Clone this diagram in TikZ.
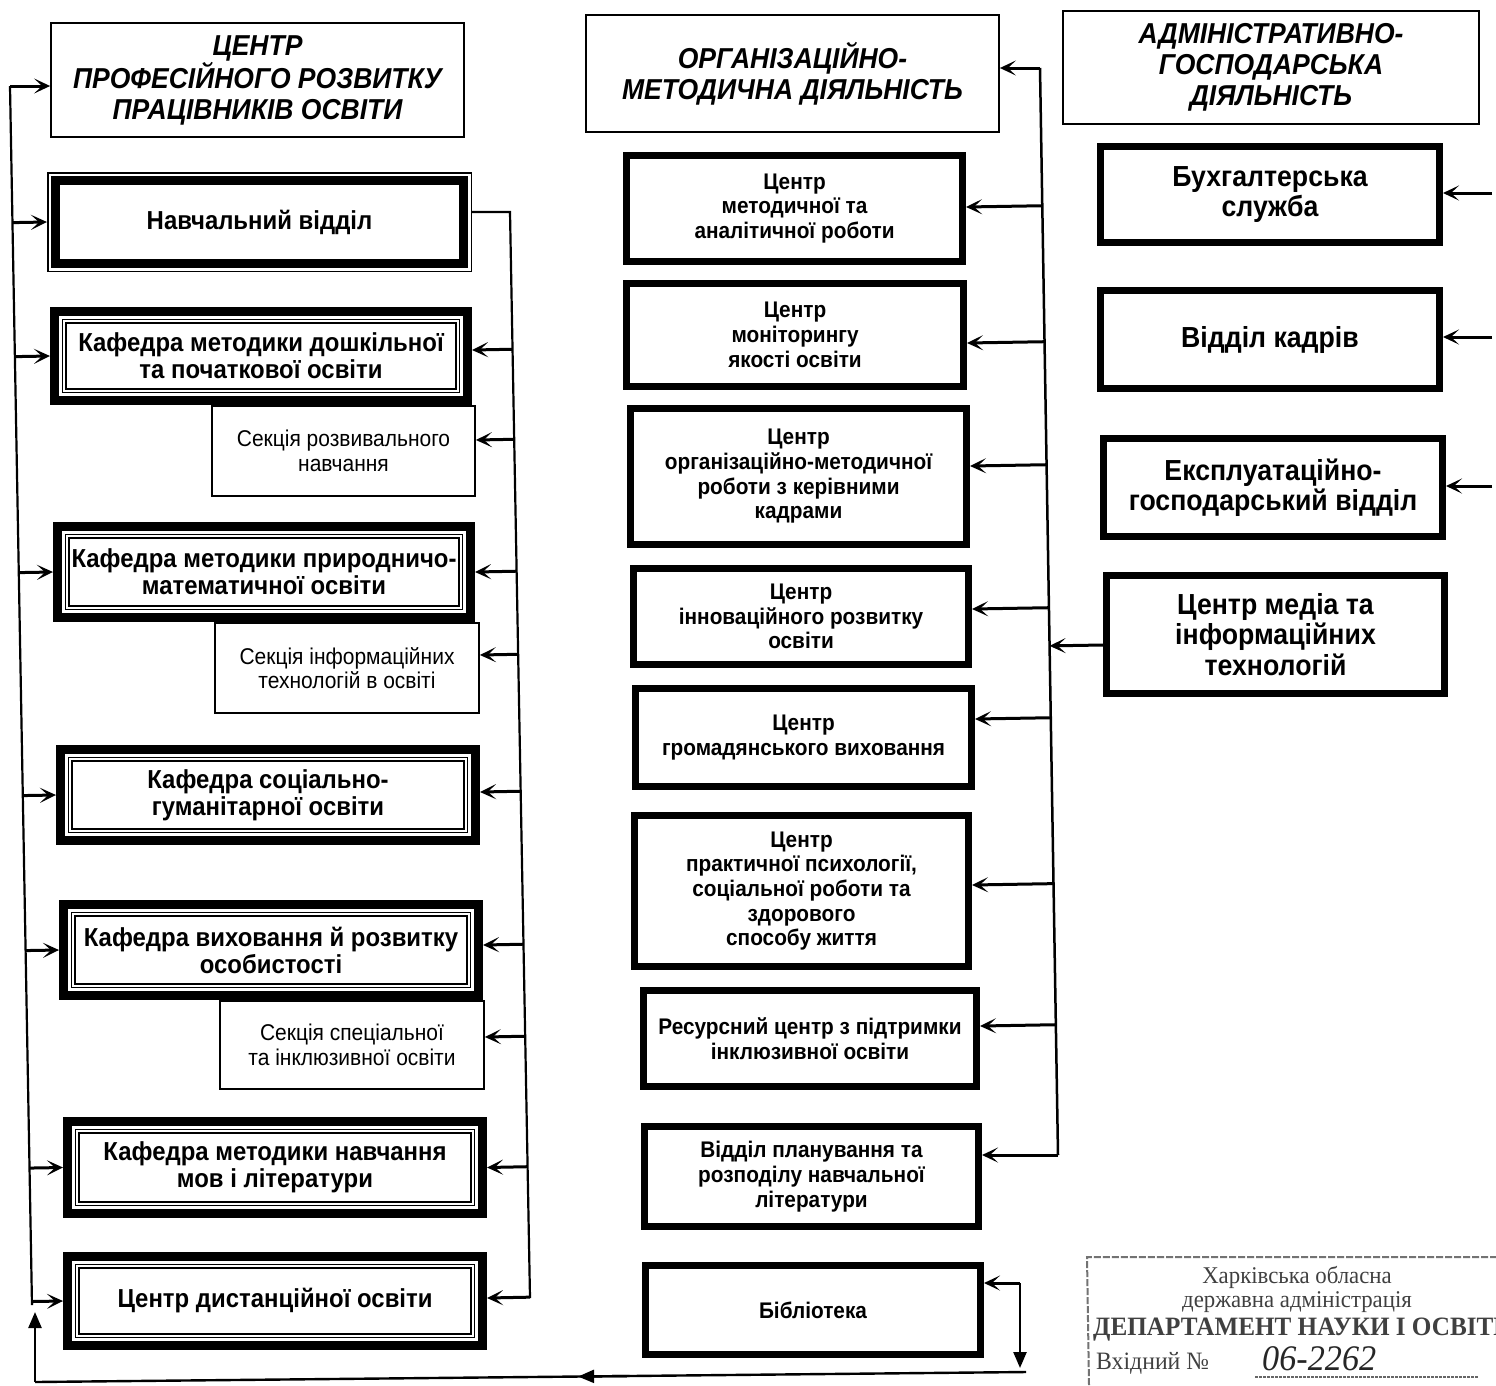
\documentclass[tikz,border=0pt]{standalone}
\usepackage{fontspec}
\setmainfont{Liberation Sans}[FakeStretch=0.92]
\newfontfamily\stampfont{Liberation Serif}[FakeStretch=0.95]
\usetikzlibrary{arrows.meta,calc}
\tikzset{
  hdr/.style={draw, line width=1.8pt, align=center, inner sep=0pt,
    font=\bfseries\itshape\fontsize{28.8}{31}\selectfont},
  mbox/.style={draw, line width=7pt, align=center, inner sep=0pt,
    font=\bfseries\fontsize{22.6}{24.7}\selectfont},
  rbox/.style={draw, line width=7pt, align=center, inner sep=0pt,
    font=\bfseries\fontsize{29}{30.5}\selectfont},
  sbox/.style={draw, line width=1.8pt, align=center, inner sep=0pt,
    font=\fontsize{22.8}{24.5}\selectfont},
  kbox/.style={draw, line width=9pt, align=center, inner sep=0pt,
    font=\bfseries\fontsize{26}{27}\selectfont,
    path picture={
      \draw[line width=1.3pt] ([shift={(8pt,-8pt)}]path picture bounding box.north west)
        rectangle ([shift={(-8pt,8pt)}]path picture bounding box.south east);
      \draw[line width=1.3pt] ([shift={(11.5pt,-11.5pt)}]path picture bounding box.north west)
        rectangle ([shift={(-11.5pt,11.5pt)}]path picture bounding box.south east);
    }},
  nbox/.style={draw, line width=1.5pt, align=center, inner sep=0pt,
    font=\bfseries\fontsize{26}{27}\selectfont,
    path picture={
      \draw[line width=9pt] ([shift={(7.5pt,-7.5pt)}]path picture bounding box.north west)
        rectangle ([shift={(-7.5pt,7.5pt)}]path picture bounding box.south east);
    }},
  bus/.style={line width=2.2pt},
  arr/.style={line width=3pt, -{Stealth[length=16pt,width=15pt,inset=8pt]}},
  tri/.style={line width=2.4pt, -{Triangle[length=16pt,width=13pt]}},
  stamptxt/.style={text=black!75, font=\stampfont\fontsize{24}{25}\selectfont, inner sep=0pt},
}
\begin{document}
\begin{tikzpicture}[x=1pt,y=-1pt]
\useasboundingbox[fill=white] (0,0) rectangle (1496,1385);

% ---------- left column ----------
\node[hdr, minimum width=413, minimum height=114] (L0) at (257.5,80)
  {ЦЕНТР\\ПРОФЕСІЙНОГО РОЗВИТКУ\\ПРАЦІВНИКІВ ОСВІТИ};
\node[nbox, minimum width=423.5, minimum height=98.5] (L1) at (259.5,222) {Навчальний відділ};
\node[sbox, minimum width=263, minimum height=90] (S1) at (343.5,451) {Секція розвивального\\навчання};
\node[kbox, minimum width=413, minimum height=89] (K1) at (261,356) {Кафедра методики дошкільної\\та початкової освіти};
\node[sbox, minimum width=264, minimum height=90] (S2) at (347,668) {Секція інформаційних\\технологій в освіті};
\node[kbox, minimum width=413, minimum height=91] (K2) at (264,572) {Кафедра методики природничо-\\математичної освіти};
\node[kbox, minimum width=415, minimum height=91] (K3) at (268,795) {Кафедра соціально-\\гуманітарної освіти};
\node[sbox, minimum width=264, minimum height=88] (S3) at (352,1045) {Секція спеціальної\\та інклюзивної освіти};
\node[kbox, minimum width=415, minimum height=91] (K4) at (271,950) {Кафедра виховання й розвитку\\особистості};
\node[kbox, minimum width=415, minimum height=92] (K5) at (275,1167.5) {Кафедра методики навчання\\мов і літератури};
\node[kbox, minimum width=415, minimum height=89] (K6) at (275,1301) {Центр дистанційної освіти};

% ---------- middle column ----------
\node[hdr, minimum width=413, minimum height=117] (M0) at (792.5,73.5)
  {ОРГАНІЗАЦІЙНО-\\МЕТОДИЧНА ДІЯЛЬНІСТЬ};
\node[mbox, minimum width=336, minimum height=106] (M1) at (794.5,208.5) {Центр\\методичної та\\аналітичної роботи};
\node[mbox, minimum width=337, minimum height=103] (M2) at (795,335) {Центр\\моніторингу\\якості освіти};
\node[mbox, minimum width=336, minimum height=136] (M3) at (798.5,476.5) {Центр\\організаційно-методичної\\роботи з керівними\\кадрами};
\node[mbox, minimum width=335, minimum height=96] (M4) at (801,616.5) {Центр\\інноваційного розвитку\\освіти};
\node[mbox, minimum width=336, minimum height=98] (M5) at (803.5,737.5) {Центр\\громадянського виховання};
\node[mbox, minimum width=334, minimum height=151] (M6) at (801.5,891) {Центр\\практичної психології,\\соціальної роботи та\\здорового\\способу життя};
\node[mbox, minimum width=333, minimum height=96] (M7) at (810,1038.5) {Ресурсний центр з підтримки\\інклюзивної освіти};
\node[mbox, minimum width=334, minimum height=100] (M8) at (811.5,1176.5) {Відділ планування та\\розподілу навчальної\\літератури};
\node[mbox, minimum width=335, minimum height=89] (M9) at (813,1310) {Бібліотека};

% ---------- right column ----------
\node[hdr, minimum width=416, minimum height=113] (R0) at (1271,67.5)
  {АДМІНІСТРАТИВНО-\\ГОСПОДАРСЬКА\\ДІЯЛЬНІСТЬ};
\node[rbox, minimum width=339, minimum height=96] (R1) at (1270,194.5) {Бухгалтерська\\служба};
\node[rbox, minimum width=339, minimum height=98] (R2) at (1270,339.5) {Відділ кадрів};
\node[rbox, minimum width=339, minimum height=98] (R3) at (1273,487.5) {Експлуатаційно-\\господарський відділ};
\node[rbox, minimum width=338, minimum height=118] (R4) at (1275.5,634.5) {Центр медіа та\\інформаційних\\технологій};

% ---------- left outer bus ----------
\coordinate (llT) at (10,86);
\coordinate (llB) at (32,1305);
\draw[bus] (llT) -- (llB);
\draw[arr] (llT) -- (L0.west |- llT);
\foreach \n in {L1,K1,K2,K3,K4,K5,K6}
  \draw[arr] ($(llT)!(\n.west)!(llB)$) -- (\n.west);

% ---------- left inner bus ----------
\coordinate (lrT) at (510,212);
\coordinate (lrB) at (530,1298);
\draw[bus] (L1.east |- lrT) -- (lrT) -- (lrB);
\foreach \n/\s in {K1/6,S1/11,K2/0,S2/13,K3/3,K4/5,S3/8,K5/0,K6/3}
  \draw[arr] ($(lrT)!([yshift=\s pt]\n.east)!(lrB)$) -- ([yshift=\s pt]\n.east);

% ---------- middle bus ----------
\coordinate (mT) at (1040,68);
\coordinate (mB) at (1058,1155);
\draw[bus, line width=2.5pt] (mT) -- (mB);
\draw[arr] (mT) -- (M0.east |- mT);
\foreach \n/\y in {M1/207,M2/343,M3/466,M4/609,M5/719,M6/885,M7/1026}{
  \coordinate (t\n) at (\n.east |- 0,\y);
  \draw[arr] ($(mT)!(t\n)!(mB)$) -- (t\n);
}
\draw[arr] (mB) -- (M8.east |- mB);
\coordinate (tR4) at (R4.west |- 0,645);
\draw[arr] (tR4) -- ($(mT)!(tR4)!(mB)$);

% ---------- right side inputs ----------
\coordinate (rA) at (1492,193);
\coordinate (rB) at (1492,337);
\coordinate (rC) at (1492,486);
\draw[arr] (rA) -- (R1.east |- rA);
\draw[arr] (rB) -- (R2.east |- rB);
\draw[arr] (rC) -- (R3.east |- rC);

% ---------- library loop ----------
\coordinate (bc) at (1020,1283);
\coordinate (bd) at (1020,1368);
\draw[arr] (bc) -- (M9.east |- bc);
\draw[tri] (bc) -- (bd);
\coordinate (b1) at (1026,1372);
\coordinate (b2) at (35,1382);
\coordinate (b3) at (35,1312);
\draw[tri] (b1) -- ($(b1)!0.452!(b2)$);
\draw[line width=2.4pt] ($(b1)!0.40!(b2)$) -- (b2);
\draw[tri] (b2) -- (b3);

% ---------- stamp ----------
\draw[black!55, line width=2pt, dash pattern=on 7pt off 2pt] (1089,1385) -- (1087,1257) -- (1496,1257);
\node[stamptxt] (st1) at (1297,1277) {Харківська обласна};
\node[stamptxt] (st2) at (1297,1302) {державна адміністрація};
\node[stamptxt, anchor=west, font=\stampfont\bfseries\fontsize{26.5}{27}\selectfont] (st3) at (1093,1330) {ДЕПАРТАМЕНТ НАУКИ І ОСВІТИ};
\node[stamptxt, anchor=west, font=\stampfont\fontsize{25}{26}\selectfont] (st4) at (1096,1363) {Вхідний №};
\node[inner sep=0pt, anchor=west, text=black!85, font=\stampfont\itshape\fontsize{36}{36}\selectfont] (st5) at (1262,1359) {06-2262};
\draw[black!60, line width=1.5pt, dash pattern=on 3pt off 1pt] (1255,1377) -- (1478,1377);
\end{tikzpicture}
\end{document}
